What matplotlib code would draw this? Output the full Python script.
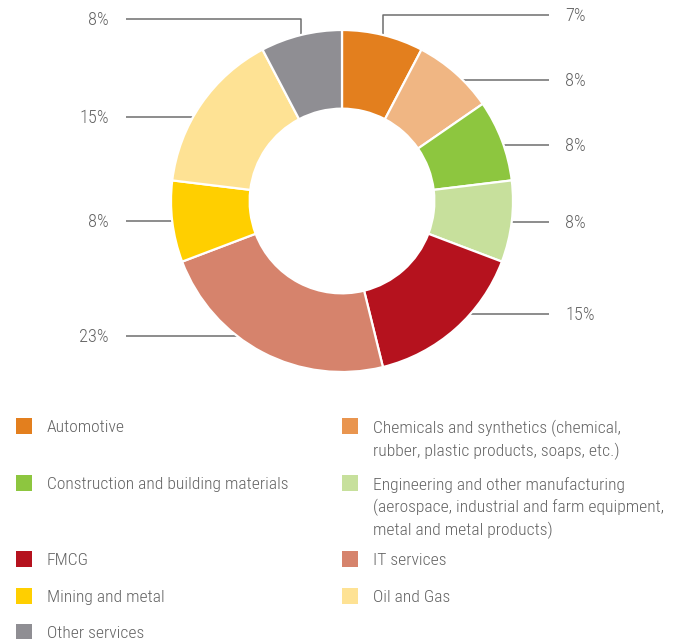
import numpy as np
import matplotlib
matplotlib.use('Agg')
import matplotlib.pyplot as plt
from matplotlib.patches import Rectangle

# data
sectors = ['Automotive', 'Chemicals and synthetics (chemical,\nrubber, plastic products, soaps, etc.)',
           'Construction and building materials',
           'Engineering and other manufacturing\n(aerospace, industrial and farm equipment,\nmetal and metal products)',
           'FMCG', 'IT services', 'Mining and metal', 'Oil and Gas', 'Other services']
shares = [7.7, 7.7, 7.7, 7.7, 15.4, 23.1, 7.7, 15.4, 7.7]
pct_labels = ['7%', '8%', '8%', '8%', '15%', '23%', '8%', '15%', '8%']
slice_colors = ['#E37F1E', '#F0B683', '#8DC63F', '#C7E09C', '#B5121E',
                '#D6836C', '#FFCF00', '#FEE294', '#8F8E93']
legend_colors = ['#E37F1E', '#E9954F', '#8DC63F', '#C7E09C', '#B5121E',
                 '#D6836C', '#FFCF00', '#FEE294', '#8F8E93']

# layout (pixel coords, y down)
cx, cy, r = 342, 201, 171
ring = 0.46
label_y = [15, 80, 145, 222, 314, 336, 221, 117, 19]
right_end, left_start = 549, 126
txt_col = '#636363'
fnt = ['Roboto Condensed', 'DejaVu Sans']
fw = 300
fs = 12.6

fig = plt.figure(figsize=(6.78, 6.39), dpi=100)
ax = fig.add_axes([0, 0, 1, 1])

# y axis is inverted, so counterclock=True draws clockwise on screen
wedges, _ = ax.pie(shares, colors=slice_colors, startangle=-90, counterclock=True,
                   center=(cx, cy), radius=r, frame=True,
                   wedgeprops=dict(width=r*ring, edgecolor='white', linewidth=1.6))
ax.set_xlim(0, 678)
ax.set_ylim(639, 0)
ax.set_aspect('equal')
ax.axis('off')

for i, w in enumerate(wedges):
    mid = np.deg2rad((w.theta1 + w.theta2) / 2)
    axp, ayp = cx + r*np.cos(mid), cy + r*np.sin(mid)
    ly = label_y[i]
    right = axp > cx
    if ly < cy - 0.9*r:
        xs = [axp, axp, right_end if right else left_start]
        ys = [ayp - 1, ly, ly]
    else:
        dx = np.sqrt(max(r**2 - (ly - cy)**2, 0)) - 1
        x0 = cx + dx if right else cx - dx
        xs = [x0, right_end if right else left_start]
        ys = [ly, ly]
    ax.plot(xs, ys, color='#6d6d6d', lw=1.1, solid_capstyle='butt', zorder=0)
    if right:
        ax.text(right_end + 16, ly + 1, pct_labels[i], ha='left', va='center',
                fontsize=fs + 0.6, color=txt_col, family=fnt, fontweight=fw)
    else:
        ax.text(left_start - 17, ly + 1, pct_labels[i], ha='right', va='center',
                fontsize=fs + 0.6, color=txt_col, family=fnt, fontweight=fw)

# legend
leg_x = [16, 342]
leg_y = [426, 426, 483, 483, 559, 559, 596, 596, 632]
for i, name in enumerate(sectors):
    x0 = leg_x[i % 2]
    y0 = leg_y[i]
    ax.add_patch(Rectangle((x0, y0 - 8), 16, 16, color=legend_colors[i], lw=0))
    ax.text(x0 + 31, y0 - 6, name, ha='left', va='top', fontsize=fs,
            color=txt_col, family=fnt, fontweight=fw, linespacing=1.42)

fig.savefig('out.png', dpi=100)
